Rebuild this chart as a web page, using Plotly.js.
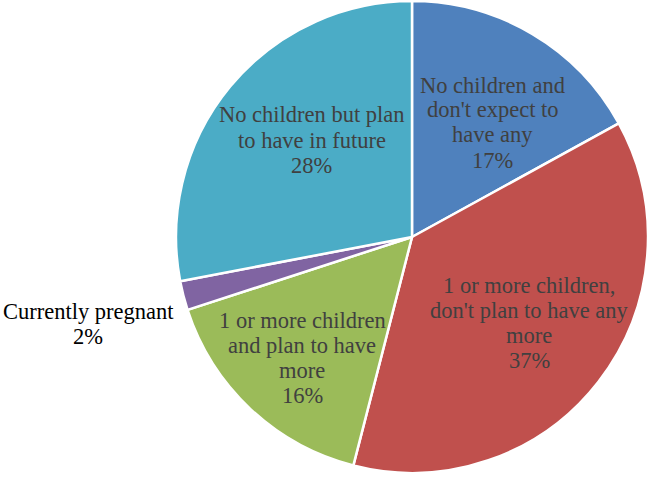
<!DOCTYPE html>
<html>
<head>
<meta charset="utf-8">
<script src="https://cdn.plot.ly/plotly-3.0.1.min.js"></script>
<style>html,body{margin:0;padding:0;background:#fff;}#chart{width:650px;height:479px;}</style>
</head>
<body>
<div id="chart"></div>
<script>
const categories = [
  "No children and don't expect to have any",
  "1 or more children, don't plan to have any more",
  "1 or more children and plan to have more",
  "Currently pregnant",
  "No children but plan to have in future"
];
const labelLines = [
  ["No children and", "don't expect to", "have any"],
  ["1 or more children,", "don't plan to have any", "more"],
  ["1 or more children", "and plan to have", "more"],
  ["Currently pregnant"],
  ["No children but plan", "to have in future"]
];
const values = [17, 37, 16, 2, 28];
const colors = ["#4F81BD", "#C0504D", "#9BBB59", "#8064A2", "#4BACC6"];

// layout only: label centre x and first baseline y (px), line step
const labelPos = [[492.5, 92], [529, 292], [302, 327], [88, 318], [311.5, 122]];
const lineStep = 25;
const fontSize = 22.5;
const W = 650, H = 479;

const annotations = [];
categories.forEach((c, i) => {
  const lines = labelLines[i].concat([values[i] + '%']);
  lines.forEach((t, k) => {
    const base = labelPos[i][1] + k * lineStep;
    annotations.push({
      xref: 'paper', yref: 'paper',
      x: labelPos[i][0] / W, y: 1 - (base - 7) / H,
      xanchor: 'center', yanchor: 'middle',
      showarrow: false,
      text: t,
      font: {family: 'Liberation Serif, Times New Roman, serif', size: fontSize, color: i === 3 ? '#000000' : '#404040'}
    });
  });
});

Plotly.newPlot('chart', [{
  type: 'pie',
  labels: categories,
  values: values,
  sort: false,
  direction: 'clockwise',
  rotation: 0,
  textinfo: 'none',
  hoverinfo: 'label+percent',
  marker: {colors: colors, line: {color: '#ffffff', width: 2.5}},
  domain: {x: [176 / W, 648 / W], y: [(H - 473) / H, (H - 1) / H]},
  showlegend: false
}], {
  width: W, height: H,
  margin: {l: 0, r: 0, t: 0, b: 0},
  paper_bgcolor: '#ffffff',
  annotations: annotations,
  showlegend: false
}, {displayModeBar: false, staticPlot: true});
</script>
</body>
</html>
